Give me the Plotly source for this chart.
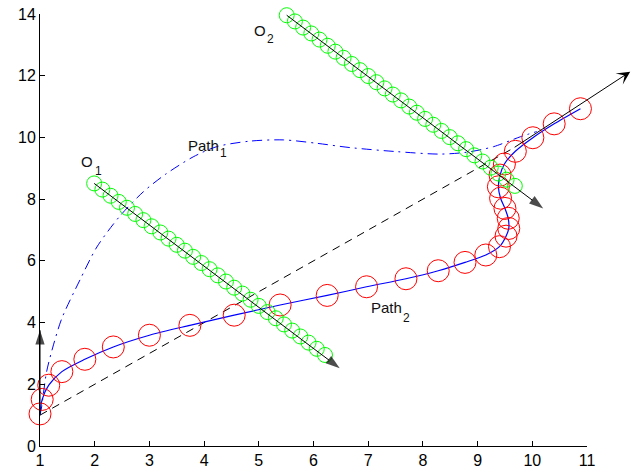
import plotly.graph_objects as go

# Path 2 (robot trajectory samples, red circles on blue solid line)
path2_x = [1.00, 1.04, 1.16, 1.40, 1.82, 2.34, 3.00, 3.74, 4.55, 5.39, 6.25, 6.97, 7.69, 8.28, 8.77,
           9.15, 9.40, 9.52, 9.57, 9.56, 9.50, 9.42, 9.38, 9.41, 9.49, 9.69, 10.01, 10.40, 10.88]
path2_y = [1.04, 1.51, 1.97, 2.41, 2.81, 3.21, 3.59, 3.91, 4.24, 4.57, 4.88, 5.16, 5.42, 5.68, 5.95,
           6.19, 6.46, 6.80, 7.05, 7.38, 7.70, 8.03, 8.40, 8.78, 9.14, 9.55, 9.99, 10.44, 10.93]

# Path 1 (dash-dot blue curve)
path1_x = [1.00, 1.03, 1.12, 1.25, 1.40, 1.73, 2.04, 2.46, 2.89, 3.29, 3.80, 4.23, 4.84, 5.45,
           6.06, 6.67, 7.52, 8.31, 8.80, 9.29, 9.78, 10.08]
path1_y = [1.00, 1.27, 2.40, 3.30, 4.14, 5.38, 6.45, 7.45, 8.24, 8.80, 9.37, 9.70, 9.88, 9.92,
           9.81, 9.67, 9.54, 9.46, 9.52, 9.70, 10.02, 10.19]

# Obstacle O1 positions (green circles)
o1_x = [1.99, 2.14, 2.29, 2.44, 2.59, 2.74, 2.89, 3.04, 3.20, 3.35, 3.50, 3.65, 3.80, 3.95, 4.10,
        4.25, 4.40, 4.55, 4.70, 4.85, 5.00, 5.16, 5.31, 5.46, 5.61, 5.76, 5.91, 6.06, 6.21]
o1_y = [8.51, 8.31, 8.11, 7.91, 7.72, 7.52, 7.32, 7.12, 6.92, 6.72, 6.52, 6.33, 6.13, 5.93, 5.73,
        5.53, 5.33, 5.13, 4.94, 4.74, 4.54, 4.34, 4.14, 3.94, 3.74, 3.55, 3.35, 3.15, 2.95]

# Obstacle O2 positions (green circles)
o2_x = [5.51, 5.66, 5.81, 5.96, 6.11, 6.26, 6.40, 6.55, 6.70, 6.85, 7.00, 7.15, 7.30, 7.45, 7.60,
        7.75, 7.89, 8.04, 8.19, 8.34, 8.49, 8.64, 8.79, 8.94, 9.09, 9.24, 9.38, 9.53, 9.68]
o2_y = [13.96, 13.76, 13.56, 13.37, 13.17, 12.97, 12.78, 12.58, 12.38, 12.18, 11.99, 11.79, 11.59,
        11.39, 11.20, 11.00, 10.80, 10.60, 10.41, 10.21, 10.01, 9.81, 9.62, 9.42, 9.22, 9.02, 8.83,
        8.63, 8.43]

# Straight dashed line (start -> goal)
dash_x = [1.0, 9.65]
dash_y = [1.0, 9.65]

# Arrows inside the axes: (tail_x, tail_y, head_x, head_y)
arrows_in = [
    (1.0, 1.0, 1.0, 3.75),
    (1.99, 8.51, 6.48, 2.52),
    (5.51, 13.96, 10.20, 7.70),
]
# Arrow leaving the axes (tail inside, head outside the x range)
arrow_out = (9.65, 9.65, 11.79, 12.13)

# Text labels: (x, y, main text, x_sub, y_sub, subscript)
labels = [
    (1.73, 9.22, "O", 1.99, 8.90, "1"),
    (3.68, 9.75, "Path", 4.28, 9.51, "1"),
    (4.885, 13.48, "O", 5.14, 13.19, "2"),
    (7.03, 4.49, "Path", 7.61, 4.15, "2"),
]

x_ticks = [1, 2, 3, 4, 5, 6, 7, 8, 9, 10, 11]
y_ticks = [0, 2, 4, 6, 8, 10, 12, 14]

GREEN = "#00ff00"
FONT = "Liberation Sans, Arial, sans-serif"

fig = go.Figure()

fig.add_trace(go.Scatter(x=dash_x, y=dash_y, mode="lines",
                         line=dict(color="black", width=1, dash="8px,6px"),
                         hoverinfo="skip"))
fig.add_trace(go.Scatter(x=path1_x, y=path1_y, mode="lines",
                         line=dict(color="blue", width=1, dash="10px,5px,2px,5px", shape="spline", smoothing=0.8),
                         hoverinfo="skip"))
fig.add_trace(go.Scatter(x=path2_x, y=path2_y, mode="lines",
                         line=dict(color="blue", width=1.2, shape="spline", smoothing=0.8),
                         hoverinfo="skip"))
fig.add_trace(go.Scatter(x=path2_x, y=path2_y, mode="markers",
                         marker=dict(symbol="circle-open", size=22, color="red", line=dict(width=1, color="red")),
                         cliponaxis=False, hoverinfo="skip"))
fig.add_trace(go.Scatter(x=o1_x, y=o1_y, mode="markers",
                         marker=dict(symbol="circle-open", size=15, color=GREEN, line=dict(width=1, color=GREEN)),
                         cliponaxis=False, hoverinfo="skip"))
fig.add_trace(go.Scatter(x=o2_x, y=o2_y, mode="markers",
                         marker=dict(symbol="circle-open", size=15, color=GREEN, line=dict(width=1, color=GREEN)),
                         cliponaxis=False, hoverinfo="skip"))

for tx, ty, hx, hy in arrows_in:
    fig.add_trace(go.Scatter(x=[tx, hx], y=[ty, hy], mode="lines+markers",
                             line=dict(color="black", width=1),
                             marker=dict(symbol=["circle", "arrow"], size=[0, 15], color="black",
                                         angleref="previous", line=dict(width=0)),
                             cliponaxis=False, hoverinfo="skip"))

annotations = []
tx, ty, hx, hy = arrow_out
annotations.append(dict(x=hx, y=hy, ax=tx, ay=ty, xref="x", yref="y", axref="x", ayref="y",
                        text="", showarrow=True, arrowhead=3, arrowsize=2.2, arrowwidth=1,
                        arrowcolor="black", standoff=0, startstandoff=0))
for lx, ly, lt, sx, sy, st in labels:
    annotations.append(dict(x=lx, y=ly, xref="x", yref="y", text=lt, showarrow=False,
                            xanchor="left", yanchor="middle", borderpad=0,
                            font=dict(family=FONT, size=15, color="#111")))
    annotations.append(dict(x=sx, y=sy, xref="x", yref="y", text=st, showarrow=False,
                            xanchor="left", yanchor="middle", borderpad=0,
                            font=dict(family=FONT, size=12, color="#111")))

fig.update_layout(
    width=644, height=472,
    margin=dict(l=40, r=57, t=14, b=26),
    paper_bgcolor="white", plot_bgcolor="white",
    showlegend=False,
    annotations=annotations,
    font=dict(family=FONT, size=16, color="black"),
)
fig.update_xaxes(range=[1, 11], tickvals=x_ticks, ticks="inside", ticklen=5, tickcolor="black",
                 showline=True, linecolor="black", linewidth=1, showgrid=False, zeroline=False,
                 mirror=False, automargin=False, ticklabeloverflow="allow")
fig.update_yaxes(range=[0, 14], tickvals=y_ticks, ticks="inside", ticklen=5, tickcolor="black",
                 showline=True, linecolor="black", linewidth=1, showgrid=False, zeroline=False,
                 mirror=False, automargin=False, ticklabeloverflow="allow")

# remove the default 8px page margin so the figure sits at the window's top-left corner
fig.write_html("out.html", config={"displayModeBar": False},
               post_script="document.body.style.margin='0';")
